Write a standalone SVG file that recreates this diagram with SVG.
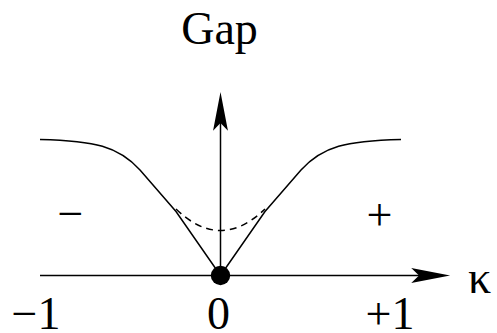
<svg xmlns="http://www.w3.org/2000/svg" width="497" height="333" viewBox="0 0 497 333">
<style>
.ln{fill:none;stroke:#000;stroke-width:1.5}
.dash{fill:none;stroke:#000;stroke-width:1.5;stroke-dasharray:7 5}
text{font-family:'Liberation Serif','DejaVu Serif',serif;font-size:46px;fill:#000;text-anchor:middle}
</style>
<defs>
<marker id="ah" markerUnits="userSpaceOnUse" markerWidth="40" markerHeight="20" viewBox="0 -8 36 16" refX="7" refY="0" orient="auto" overflow="visible">
<path d="M35,0 L0,-6.7 L7,0 L0,6.7 Z" fill="#000"/>
</marker>
</defs>
<rect width="497" height="333" fill="#fff"/>
<g id="connectors">
<line id="k-axis" class="ln" x1="40" y1="275.5" x2="419" y2="275.5" marker-end="url(#ah)"/>
<line id="gap-axis" class="ln" x1="220.5" y1="275.5" x2="220.5" y2="123" marker-end="url(#ah)"/>
<path id="curve-left" class="ln" d="M40,139.5 C95,141 118,146 140,170 L176,211.5 L220.5,275.5"/>
<path id="curve-right" class="ln" d="M401,139.5 C346,141 323,146 301,170 L265,211.5 L220.5,275.5"/>
<path id="curve-dashed" class="dash" d="M176,209 Q220.5,252 265,209"/>
</g>
<g id="origin"><circle cx="220.5" cy="275.5" r="9.7" fill="#000"/></g>
<g id="label-gap"><text x="219.5" y="43.5" font-family="Liberation Serif">Gap</text></g>
<g id="label-minus"><text x="70.5" y="228.5">−</text></g>
<g id="label-plus"><text x="379.5" y="230">+</text></g>
<g id="label-m1"><text x="36" y="329">−1</text></g>
<g id="label-0"><text x="218.5" y="329">0</text></g>
<g id="label-p1"><text x="390" y="329">+1</text></g>
<g id="label-kappa"><text x="479.5" y="293">κ</text></g>
</svg>
